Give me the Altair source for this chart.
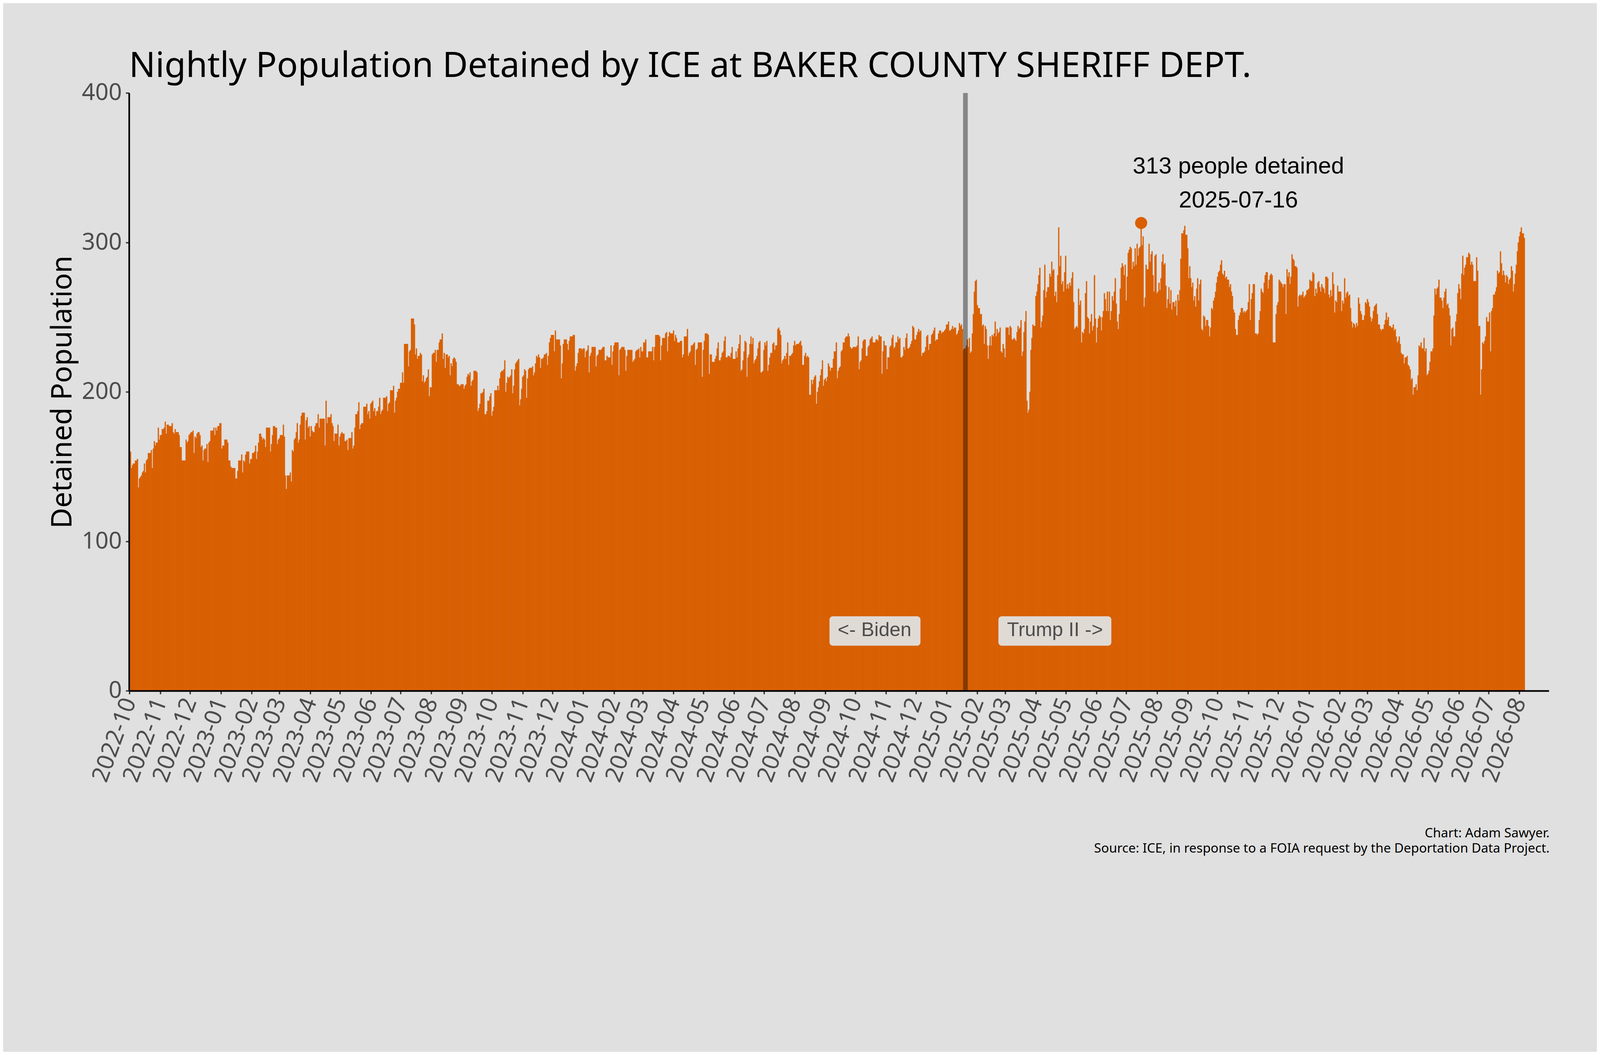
import altair as alt
import pandas as pd

# ---------------- data ----------------
start_date = "2022-10-01"

pop_a = [135, 160, 149, 151, 152, 152, 154, 154, 155, 136,
         142, 143, 144, 146, 147, 152, 146, 154, 155, 159,
         159, 159, 161, 149, 162, 167, 164, 166, 166, 176,
         168, 171, 171, 175, 175, 176, 180, 172, 178, 178,
         177, 177, 177, 179, 173, 172, 175, 173, 173, 173,
         171, 163, 163, 154, 154, 154, 154, 168, 166, 167,
         171, 172, 173, 173, 174, 159, 170, 169, 172, 173,
         173, 171, 163, 164, 154, 161, 162, 162, 165, 153,
         166, 167, 174, 174, 174, 176, 171, 176, 174, 177,
         177, 179, 179, 162, 164, 164, 168, 168, 168, 166,
         154, 154, 150, 149, 149, 149, 149, 142, 142, 147,
         154, 154, 154, 158, 146, 154, 153, 158, 160, 160,
         160, 152, 155, 155, 159, 159, 160, 164, 155, 160,
         166, 172, 172, 170, 168, 169, 168, 163, 176, 176,
         176, 176, 160, 165, 171, 177, 177, 176, 176, 165,
         168, 169, 171, 171, 171, 178, 170, 144, 135, 144,
         144, 144, 146, 140, 161, 160, 168, 169, 173, 179,
         166, 168, 178, 184, 186, 186, 186, 168, 181, 183,
         176, 177, 170, 177, 174, 173, 173, 177, 179, 179,
         185, 176, 182, 182, 182, 182, 182, 164, 194, 179,
         183, 183, 183, 185, 179, 177, 167, 172, 172, 172,
         178, 164, 170, 172, 173, 172, 172, 167, 167, 168,
         161, 169, 169, 169, 173, 162, 164, 176, 185, 185,
         187, 193, 175, 178, 179, 179]

pop_b = [190, 190, 190, 192, 185, 187, 182, 192, 193, 194,
         187, 189, 184, 187, 187, 190, 196, 185, 187, 188,
         196, 196, 196, 197, 187, 192, 193, 201, 201, 201,
         204, 186, 194, 196, 200, 202, 202, 206, 206, 213,
         206, 232, 232, 232, 232, 217, 227, 228, 249, 249,
         249, 245, 225, 229, 222, 224, 224, 226, 225, 207,
         211, 206, 207, 209, 210, 215, 197, 203, 203, 225,
         226, 226, 228, 220, 228, 228, 233, 235, 235, 239,
         222, 226, 216, 225, 225, 223, 224, 211, 219, 217,
         222, 223, 222, 220, 205, 205, 204, 204, 205, 205,
         205, 202, 204, 205, 210, 212, 211, 213, 204, 207,
         208, 214, 214, 214, 213, 187, 189, 192, 199, 199,
         200, 202, 185, 185, 187, 194, 194, 197, 199, 184,
         187, 190, 201, 201, 201, 204, 201, 209, 213, 214,
         214, 215, 221, 200, 206, 210, 209, 210, 211, 215,
         199, 204, 215, 219, 220, 221, 222, 191, 195, 202,
         210, 211, 215, 214, 196, 209, 215, 216, 216, 216,
         217, 211, 213, 219, 224, 223, 225, 223, 216, 222,
         222, 223, 225, 225, 226, 218, 224, 233, 236, 238,
         238, 238, 227, 241, 235, 235, 235, 235, 231, 209,
         219, 232, 235, 235, 235, 232, 228, 234, 237, 237,
         237, 238, 238, 214, 217, 219, 226, 229, 229, 229,
         228, 229, 229, 223, 227, 228, 231, 213, 224, 226,
         230, 230, 230, 230, 217, 224, 225, 228, 228, 228,
         229, 230]

pop_c = [230, 221, 221, 224, 223, 223, 223, 231, 218, 227,
         231, 233, 233, 233, 233, 211, 228, 229, 230, 230,
         230, 228, 214, 224, 228, 228, 228, 228, 228, 220,
         221, 222, 227, 228, 228, 229, 223, 230, 227, 227,
         233, 233, 235, 223, 223, 227, 227, 227, 227, 230,
         221, 230, 238, 238, 238, 238, 237, 221, 231, 236,
         236, 236, 239, 240, 227, 237, 240, 239, 239, 239,
         241, 234, 238, 236, 233, 233, 233, 234, 234, 223,
         225, 237, 237, 237, 242, 224, 226, 227, 231, 231,
         232, 233, 218, 228, 229, 233, 233, 233, 233, 210,
         228, 234, 239, 239, 239, 238, 212, 225, 225, 220,
         220, 220, 222, 224, 229, 233, 221, 221, 223, 226,
         227, 234, 237, 223, 223, 224, 224, 223, 226, 230,
         222, 222, 222, 227, 223, 229, 232, 238, 214, 215,
         221, 227, 234, 233, 210, 223, 225, 232, 237, 232,
         236, 219, 221, 222, 224, 229, 233, 234, 213, 213,
         214, 228, 233, 231, 234, 214, 218, 223, 226, 226,
         232, 233, 228, 231, 231, 242, 243, 241, 238, 219,
         221, 222, 224, 222, 226, 233, 218, 224, 224, 225,
         226, 231, 234, 231, 232, 232, 232, 233, 234, 231,
         218, 218, 224, 226, 223, 224, 223, 198, 198, 208,
         205, 208, 210, 211, 192, 200, 203, 207, 211, 215,
         221, 204, 208, 209, 207, 210, 219, 217, 214, 216,
         216, 222, 227, 227, 233, 209, 214, 216, 217, 227,
         228, 233]

pop_d = [233, 236, 237, 237, 239, 237, 230, 229, 229, 230,
         230, 230, 230, 231, 237, 215, 220, 221, 229, 234,
         235, 235, 224, 224, 230, 231, 235, 236, 237, 233,
         233, 233, 235, 235, 234, 238, 237, 237, 212, 227,
         234, 231, 231, 215, 223, 223, 230, 231, 236, 238,
         229, 230, 233, 233, 237, 235, 236, 223, 223, 224,
         230, 228, 236, 239, 229, 229, 230, 232, 234, 244,
         243, 235, 235, 238, 240, 242, 240, 241, 224, 226,
         226, 227, 230, 237, 238, 228, 232, 232, 238, 239,
         241, 243, 234, 235, 235, 239, 241, 241, 239, 240,
         240, 241, 242, 245, 245, 247, 241, 241, 242, 244,
         242, 243, 243, 238, 239, 241, 246, 244, 245, 242,
         228, 229, 229, 231, 235, 230, 236, 226, 227, 239,
         252, 267, 274, 275, 258, 256, 256, 252, 252, 244,
         245, 232, 244, 242, 231, 222, 231, 237, 231, 238,
         237, 239, 247, 237, 242, 239, 240, 243, 227, 226,
         232, 229, 223, 243, 243, 243, 238, 244, 243, 235,
         235, 236, 235, 234, 240, 244, 242, 243, 248, 224,
         227, 240, 247, 254, 194, 186, 188, 200, 228, 236,
         245, 244, 244, 264, 267, 272, 278, 283, 243, 247,
         251, 268, 285, 263, 267, 270, 270, 279, 277, 287,
         281, 282, 264, 267, 260, 278, 310, 284, 291, 272,
         274, 267, 280, 291, 269, 272, 269, 273, 271, 276,
         280, 260, 242, 243, 244, 243, 269, 258, 261, 233,
         240, 239]

pop_e = [242, 266, 274, 250, 249, 239, 247, 252, 241, 244,
         278, 249, 233, 243, 249, 251, 250, 241, 250, 254,
         266, 262, 254, 267, 254, 267, 248, 254, 264, 261,
         267, 276, 259, 247, 242, 252, 269, 283, 286, 284,
         278, 285, 261, 277, 293, 295, 297, 296, 282, 287,
         284, 296, 285, 299, 291, 296, 297, 313, 298, 304,
         257, 263, 285, 282, 282, 299, 287, 292, 294, 278,
         267, 291, 292, 266, 267, 273, 268, 276, 287, 292,
         285, 286, 271, 256, 262, 270, 259, 268, 255, 260,
         260, 257, 261, 251, 265, 261, 268, 289, 306, 306,
         308, 311, 305, 305, 296, 276, 284, 276, 270, 273,
         261, 264, 257, 269, 276, 261, 272, 275, 242, 241,
         251, 250, 244, 248, 248, 244, 237, 243, 256, 255,
         261, 263, 267, 273, 277, 280, 281, 285, 288, 279,
         278, 281, 276, 277, 275, 275, 270, 272, 267, 264,
         255, 253, 242, 238, 238, 248, 251, 253, 256, 256,
         253, 254, 253, 254, 255, 260, 272, 248, 262, 266,
         272, 272, 239, 239, 238, 239, 248, 254, 269, 267,
         266, 273, 278, 280, 280, 269, 275, 278, 279, 278,
         233, 233, 233, 252, 258, 260, 275, 274, 273, 272,
         270, 272, 272, 252, 282, 277, 280, 272, 277, 292,
         289, 288, 284, 284, 283, 257, 264, 265, 264, 265,
         267, 263, 264, 265, 268, 268, 269, 275, 274, 274,
         280, 279, 264, 269, 266, 273, 274, 270, 267, 272,
         270]

pop_f = [269, 266, 277, 277, 276, 265, 263, 268, 264, 280,
         272, 253, 261, 260, 271, 267, 267, 267, 254, 261,
         259, 276, 263, 266, 267, 264, 265, 256, 247, 243,
         246, 245, 243, 246, 244, 263, 259, 254, 252, 248,
         248, 251, 260, 259, 262, 260, 257, 250, 247, 249,
         254, 257, 258, 259, 252, 245, 245, 242, 241, 242,
         242, 245, 248, 253, 248, 250, 244, 244, 243, 243,
         245, 241, 242, 237, 233, 234, 237, 232, 226, 225,
         225, 219, 223, 223, 224, 218, 217, 215, 208, 209,
         198, 203, 203, 205, 201, 211, 231, 230, 233, 229,
         229, 236, 227, 229, 211, 212, 214, 220, 227, 227,
         229, 251, 269, 265, 269, 270, 275, 263, 263, 261,
         256, 263, 267, 269, 258, 259, 256, 251, 231, 242,
         243, 237, 237, 247, 252, 266, 272, 269, 262, 279,
         291, 278, 283, 285, 290, 290, 293, 292, 285, 287,
         285, 274, 274, 274, 290, 281, 244, 244, 198, 215,
         233, 232, 234, 237, 250, 247, 247, 253, 227, 254,
         256, 265, 265, 267, 270, 281, 279, 280, 294, 286,
         278, 281, 278, 273, 278, 277, 272, 275, 276, 284,
         281, 267, 272, 279, 285, 294, 300, 304, 307, 310,
         306, 306, 303]

trump_start = "2025-01-20"
era_labels = ["<- Biden", "Trump II ->"]
peak_date = "2025-07-16"
peak_value = 313
title_text = "Nightly Population Detained by ICE at BAKER COUNTY SHERIFF DEPT."
y_title = "Detained Population"
y_ticks = [0, 100, 200, 300, 400]
footer_lines = ["Chart: Adam Sawyer.",
                "Source: ICE, in response to a FOIA request by the Deportation Data Project."]

# ---------------- styling ----------------
ORANGE = "#D95F02"
BG = "#E0E0E0"
BOX = "#E0DAD5"
GRAYTXT = "#4D4D4D"
MAIN_FONT = "Noto Sans"
ANNOT_FONT = "Liberation Sans"

W, H = 4262, 1794                      # plot area
PAD = {"left": 378, "top": 38, "right": 144, "bottom": 852}

population = pop_a + pop_b + pop_c + pop_d + pop_e + pop_f
days = pd.date_range(start_date, periods=len(population), freq="D", tz="UTC")
half = pd.Timedelta(hours=12)
df = pd.DataFrame({
    "start": (days - half).strftime("%Y-%m-%dT%H:%M:%SZ"),
    "end": (days + half).strftime("%Y-%m-%dT%H:%M:%SZ"),
    "pop": population,
})


def ms(ts):
    return int(pd.Timestamp(ts).timestamp() * 1000)


dom_lo, dom_hi = "2022-09-30T12:00:00Z", "2026-08-30T18:00:00Z"
x_domain = [ms(dom_lo), ms(dom_hi)]
month_ticks = [ms(t) for t in pd.date_range("2022-10-01", "2026-08-01", freq="MS", tz="UTC")]

xscale = alt.Scale(type="utc", domain=x_domain, nice=False)
yscale = alt.Scale(domain=[0, 400], nice=False)

x_axis = alt.Axis(values=month_ticks, format="%Y-%m", labelAngle=290, labelAlign="right",
                  labelBaseline="middle", labelFont=MAIN_FONT, labelFontSize=70,
                  labelColor=GRAYTXT, labelPadding=14, labelOverlap=False, labelFlush=False,
                  labelLimit=0, tickSize=10, tickWidth=4, tickColor="#333333",
                  domainColor="black", domainWidth=5, grid=False, title=None, zindex=1)
y_axis = alt.Axis(values=y_ticks, title=y_title, titleFont=MAIN_FONT, titleFontSize=85,
                  titleFontWeight="normal", titleColor="black", titleAngle=270,
                  titleX=-199, titleY=H / 2, titleAlign="center", titleBaseline="middle",
                  labelFont=MAIN_FONT, labelFontSize=70, labelColor=GRAYTXT, labelPadding=12,
                  tickSize=10, tickWidth=4, tickColor="#333333", domainColor="black",
                  domainWidth=5, grid=False, zindex=1)

bars = alt.Chart(df).mark_rect(color=ORANGE, stroke=ORANGE, strokeWidth=0.8).encode(
    x=alt.X("start:T", scale=xscale, axis=x_axis),
    x2="end:T",
    y=alt.Y("pop:Q", scale=yscale, axis=y_axis),
    y2=alt.datum(0),
)

event_df = pd.DataFrame({"date": [trump_start + "T00:00:00Z"]})
ex = alt.X("date:T", title=None)
py = alt.Y("pop:Q", title=y_title)

rule = alt.Chart(event_df).mark_rule(color="black", opacity=0.4, strokeWidth=14).encode(
    x=ex, y=alt.datum(0), y2=alt.datum(400))

box_left = alt.Chart(event_df).mark_rect(
    color=BOX, cornerRadius=10, xOffset=-408, x2Offset=-135, yOffset=-44, y2Offset=44
).encode(x=ex, x2="date:T", y=alt.datum(40), y2=alt.datum(40))
box_right = alt.Chart(event_df).mark_rect(
    color=BOX, cornerRadius=10, xOffset=99, x2Offset=438, yOffset=-44, y2Offset=44
).encode(x=ex, x2="date:T", y=alt.datum(40), y2=alt.datum(40))

lab_left = alt.Chart(event_df).mark_text(
    align="right", baseline="alphabetic", dx=-162, dy=15, font=ANNOT_FONT, fontSize=59,
    color=GRAYTXT).encode(x=ex, y=alt.datum(40), text=alt.value(era_labels[0]))
lab_right = alt.Chart(event_df).mark_text(
    align="left", baseline="alphabetic", dx=125, dy=15, font=ANNOT_FONT, fontSize=59,
    color=GRAYTXT).encode(x=ex, y=alt.datum(40), text=alt.value(era_labels[1]))

peak_df = pd.DataFrame({"date": [peak_date + "T00:00:00Z"], "pop": [peak_value],
                        "line1": [f"{peak_value} people detained"], "line2": [peak_date]})
peak_pt = alt.Chart(peak_df).mark_circle(size=1320, color=ORANGE, opacity=1).encode(
    x=ex, y=py)
peak_t1 = alt.Chart(peak_df).mark_text(
    align="center", baseline="alphabetic", dx=292, dy=-148, font=ANNOT_FONT, fontSize=70,
    color="black").encode(x=ex, y=py, text="line1:N")
peak_t2 = alt.Chart(peak_df).mark_text(
    align="center", baseline="alphabetic", dx=292, dy=-46, font=ANNOT_FONT, fontSize=70,
    color="black").encode(x=ex, y=py, text="line2:N")

note_df = pd.DataFrame({"k": [0]})
title_mark = alt.Chart(note_df).mark_text(
    align="left", baseline="alphabetic", font=MAIN_FONT, fontSize=104.5, color="black"
).encode(x=alt.value(0), y=alt.value(-48), text=alt.value(title_text))
footer_1 = alt.Chart(note_df).mark_text(
    align="right", baseline="alphabetic", font=MAIN_FONT, fontSize=39, color="black"
).encode(x=alt.value(W + 2), y=alt.value(2234), text=alt.value(footer_lines[0]))
footer_2 = alt.Chart(note_df).mark_text(
    align="right", baseline="alphabetic", font=MAIN_FONT, fontSize=39, color="black"
).encode(x=alt.value(W + 2), y=alt.value(2280), text=alt.value(footer_lines[1]))

chart = alt.layer(bars, rule, box_left, box_right, lab_left, lab_right,
                  peak_pt, peak_t1, peak_t2, title_mark, footer_1, footer_2).properties(
    width=W, height=H,
    autosize=alt.AutoSizeParams(type="none"),
    padding=PAD,
).configure(background=BG).configure_view(stroke=None)

chart.save("out.html", embed_options={"renderer": "svg", "actions": False})
